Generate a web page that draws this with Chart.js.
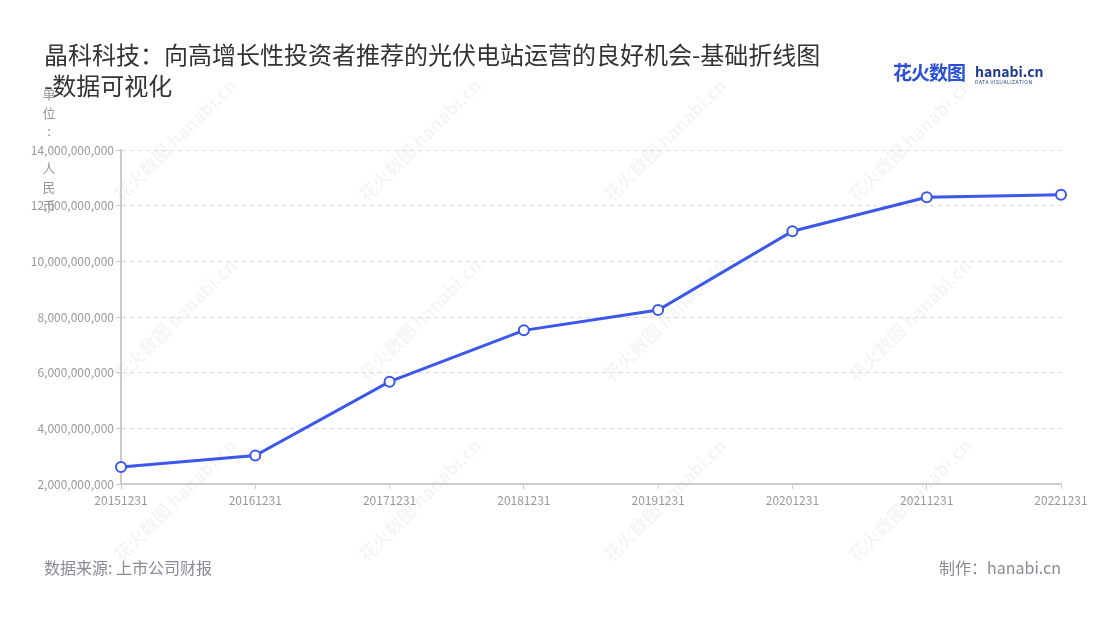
<!DOCTYPE html>
<html>
<head>
<meta charset="utf-8">
<script src="https://cdn.jsdelivr.net/npm/chart.js@4"></script>
<style>
  body { margin:0; background:#fff; font-family:"Noto Sans CJK SC","Noto Sans",sans-serif; }
  #wrap { position:relative; width:1100px; height:620px; overflow:hidden; }
  #chart { position:absolute; left:0; top:0; }
  .title { position:absolute; left:44px; top:38px; width:800px; font-size:24px; line-height:31px; color:#333; }
  .ytitle { position:absolute; left:42px; top:85px; width:14px; font-size:13px; line-height:18.6px; color:#999; text-align:center; }
  .foot { position:absolute; top:555px; font-size:16px; color:#8a8a96; }
  .logo { position:absolute; left:893px; top:58px; white-space:nowrap; }
  .logo .cn { font-size:19px; font-weight:bold; color:#2a4fd6; letter-spacing:-1px; }
  .logo .en { position:absolute; left:82px; top:3px; font-size:14px; font-weight:bold; color:#1d3b8c; }
  .logo .sub { position:absolute; left:82px; top:20px; font-size:5px; color:#1d3b8c; letter-spacing:0.5px; }
</style>
</head>
<body>
<div id="wrap">
  <canvas id="chart" width="1100" height="620"></canvas>
  <div class="title">晶科科技：向高增长性投资者推荐的光伏电站运营的良好机会-基础折线图<br>-数据可视化</div>
  <div class="ytitle">单<br>位<br>:<br>&nbsp;<br>人<br>民<br>币</div>
  <div class="logo"><span class="cn">花火数图</span><span class="en">hanabi.cn</span><span class="sub">DATA VISUALIZATION</span></div>
  <div class="foot" style="left:44px;">数据来源: 上市公司财报</div>
  <div class="foot" style="right:39px;">制作：hanabi.cn</div>
</div>
<script>
// data
var years = ["20151231","20161231","20171231","20181231","20191231","20201231","20211231","20221231"];
var values = [2615000000, 3020000000, 5675000000, 7520000000, 8250000000, 11080000000, 12300000000, 12390000000];
var yMin = 2000000000;
var yMax = 14000000000;
var yStep = 2000000000;

var lineColor = 'rgb(59,88,234)';

// faint rotated brand marks behind the chart
var watermark = {
    id: 'watermark',
    beforeDraw: function(chart) {
        var ctx = chart.ctx;
        var cols = [175, 420, 665, 910];
        var rows = [140, 320, 500];
        ctx.save();
        ctx.fillStyle = 'rgba(0,0,0,0.04)';
        ctx.font = 'bold 18px "Noto Sans CJK SC"';
        rows.forEach(function(y) {
            cols.forEach(function(x) {
                ctx.save();
                ctx.translate(x, y);
                ctx.rotate(-Math.PI / 4);
                ctx.textAlign = 'center';
                ctx.textBaseline = 'middle';
                ctx.fillText('花火数图 hanabi.cn', 0, 0);
                ctx.restore();
            });
        });
        ctx.restore();
    }
};

var chart = new Chart(document.getElementById('chart'), {
    type: 'line',
    data: {
        labels: years,
        datasets: [{
            data: values,
            borderColor: lineColor,
            borderWidth: 3,
            backgroundColor: '#fff',
            pointBackgroundColor: '#fff',
            pointBorderColor: lineColor,
            pointBorderWidth: 2,
            pointRadius: 5,
            tension: 0
        }]
    },
    options: {
        responsive: false,
        animation: false,
        layout: { padding: { top: 150, right: 39, left: 0, bottom: 0 } },
        plugins: { legend: { display: false }, title: { display: false }, tooltip: { enabled: false } },
        scales: {
            x: {
                offset: false,
                grid: { drawOnChartArea: false, drawTicks: true, tickLength: 5, tickColor: '#ccc' },
                border: { color: '#ccc', width: 2 },
                ticks: { color: '#999', font: { size: 12, family: '"Noto Sans CJK SC"' }, maxRotation: 0, autoSkip: false, padding: 4 },
                afterFit: function(s) { s.height = 136; }
            },
            y: {
                min: yMin,
                max: yMax,
                grid: { color: '#dcdcdc', tickBorderDash: [], tickColor: '#ccc', tickLength: 5, lineWidth: 1 },
                border: { color: '#ccc', width: 2, dash: [4, 4] },
                ticks: {
                    stepSize: yStep,
                    color: '#999',
                    padding: 2,
                    font: { size: 12, family: '"Noto Sans CJK SC"' },
                    callback: function(v) { return v.toLocaleString('en-US'); }
                },
                afterFit: function(s) { s.width = 121; }
            }
        }
    },
    plugins: [watermark]
});
</script>
</body>
</html>
